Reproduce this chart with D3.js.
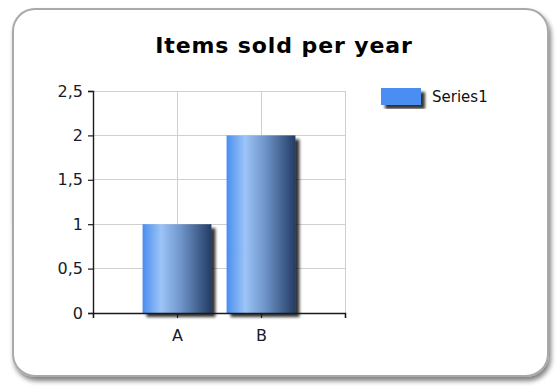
<!DOCTYPE html>
<html>
<head>
<meta charset="utf-8">
<script src="https://cdn.jsdelivr.net/npm/d3@7"></script>
<style>
  html, body { margin: 0; padding: 0; background: #ffffff; }
  svg { display: block; }
  text { font-family: "DejaVu Sans", Verdana, sans-serif; }
</style>
</head>
<body>
<svg id="chart" width="556" height="388"></svg>
<script>
// Chart data
const categories = ["A", "B"];
const values = [1, 2];
const seriesName = "Series1";
const yTicks = [0, 0.5, 1, 1.5, 2, 2.5];
const titleText = "Items sold per year";

const W = 556, H = 388;
const svg = d3.select("#chart");
const defs = svg.append("defs");

// Soft frame shadow
const fShadow = defs.append("filter").attr("id", "frameShadow")
  .attr("x", "-5%").attr("y", "-5%").attr("width", "110%").attr("height", "112%");
fShadow.append("feGaussianBlur").attr("in", "SourceAlpha").attr("stdDeviation", 2.4).attr("result", "b");
fShadow.append("feOffset").attr("in", "b").attr("dx", 2).attr("dy", 4).attr("result", "o");
fShadow.append("feComponentTransfer").attr("in", "o").attr("result", "s")
  .append("feFuncA").attr("type", "linear").attr("slope", 0.5);
const fm = fShadow.append("feMerge");
fm.append("feMergeNode").attr("in", "s");
fm.append("feMergeNode").attr("in", "SourceGraphic");

// Bar shadow
const bShadow = defs.append("filter").attr("id", "barShadow")
  .attr("x", "-20%").attr("y", "-20%").attr("width", "150%").attr("height", "140%");
bShadow.append("feGaussianBlur").attr("in", "SourceAlpha").attr("stdDeviation", 1.6).attr("result", "b");
bShadow.append("feOffset").attr("in", "b").attr("dx", 4).attr("dy", 4).attr("result", "o");
bShadow.append("feComponentTransfer").attr("in", "o").attr("result", "s")
  .append("feFuncA").attr("type", "linear").attr("slope", 0.8);
const bm = bShadow.append("feMerge");
bm.append("feMergeNode").attr("in", "s");
bm.append("feMergeNode").attr("in", "SourceGraphic");

// Cylinder-like horizontal gradient for the bars
const grad = defs.append("linearGradient").attr("id", "barGrad")
  .attr("x1", "0%").attr("x2", "100%").attr("y1", "0%").attr("y2", "0%");
[
  [0, "#4a8ef0"],
  [0.27, "#9cc4f6"],
  [0.55, "#7096cc"],
  [1, "#233c63"]
].forEach(([o, c]) => grad.append("stop").attr("offset", o).attr("stop-color", c));

// Outer rounded frame
svg.append("rect")
  .attr("x", 13).attr("y", 9).attr("width", 535).attr("height", 367)
  .attr("rx", 22).attr("ry", 22)
  .attr("fill", "#ffffff").attr("stroke", "#a9a9a9").attr("stroke-width", 2)
  .attr("filter", "url(#frameShadow)");

// Title
svg.append("text")
  .attr("x", 284).attr("y", 53)
  .attr("text-anchor", "middle")
  .attr("font-size", 22).attr("font-weight", "bold")
  .attr("letter-spacing", 0.9)
  .attr("fill", "#000000")
  .text(titleText);

// Plot area
const plot = { left: 93, right: 345, top: 91, bottom: 313 };
const y = d3.scaleLinear().domain([0, 2.5]).range([plot.bottom, plot.top]);
const x = d3.scaleLinear().domain([0, categories.length + 1]).range([plot.left, plot.right]);
const xTickVals = d3.range(0, categories.length + 2);
const barWidth = (x(1) - x(0)) * 0.82;

const g = svg.append("g");

// Grid lines
g.append("g").selectAll("line").data(yTicks.filter(d => d > 0)).join("line")
  .attr("x1", plot.left).attr("x2", plot.right)
  .attr("y1", d => y(d)).attr("y2", d => y(d))
  .attr("stroke", "#cfcfcf").attr("stroke-width", 1).attr("shape-rendering", "crispEdges");
g.append("g").selectAll("line").data(xTickVals.filter(d => d > 0)).join("line")
  .attr("x1", d => x(d)).attr("x2", d => x(d))
  .attr("y1", plot.top).attr("y2", plot.bottom)
  .attr("stroke", "#cfcfcf").attr("stroke-width", 1).attr("shape-rendering", "crispEdges");

// Bars
g.append("g").selectAll("rect").data(values).join("rect")
  .attr("x", (d, i) => x(i + 1) - barWidth / 2)
  .attr("width", barWidth)
  .attr("y", d => y(d))
  .attr("height", d => y(0) - y(d))
  .attr("fill", "url(#barGrad)")
  .attr("filter", "url(#barShadow)");

// Axes
const yAxis = d3.axisLeft(y).tickValues(yTicks).tickSize(5).tickPadding(5)
  .tickFormat(d => d3.format("")(d).replace(".", ","));
const yg = svg.append("g").attr("transform", `translate(${plot.left},0)`).call(yAxis);
const xAxis = d3.axisBottom(x).tickValues(xTickVals).tickSize(5).tickPadding(12)
  .tickFormat(d => (d >= 1 && d <= categories.length) ? categories[d - 1] : "");
const xg = svg.append("g").attr("transform", `translate(0,${plot.bottom})`).call(xAxis);

[yg, xg].forEach(a => {
  a.select(".domain").attr("stroke", "#1a1a1a").attr("stroke-width", 1.4);
  a.selectAll(".tick line").attr("stroke", "#1a1a1a").attr("stroke-width", 1.2);
  a.selectAll(".tick text").attr("font-family", "DejaVu Sans, Verdana, sans-serif")
    .attr("font-size", 16).attr("fill", "#1a1a2a");
});

// Legend
const legend = svg.append("g");
legend.append("rect")
  .attr("x", 381).attr("y", 88).attr("width", 40).attr("height", 17)
  .attr("fill", "#4a8ef0").attr("filter", "url(#barShadow)");
legend.append("text")
  .attr("x", 432).attr("y", 102)
  .attr("font-size", 15).attr("fill", "#111111")
  .text(seriesName);
</script>
</body>
</html>
